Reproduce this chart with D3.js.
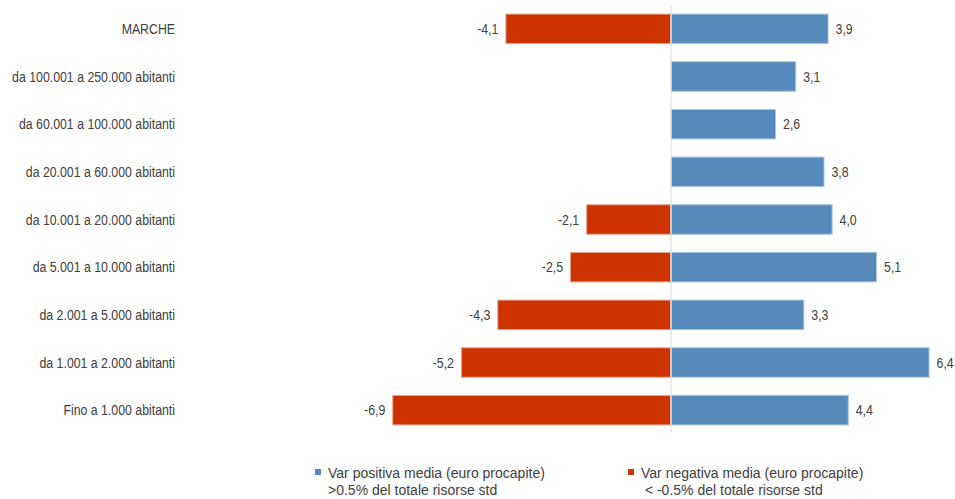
<!DOCTYPE html>
<html>
<head>
<meta charset="utf-8">
<script src="https://cdn.jsdelivr.net/npm/d3@7"></script>
<style>
  html, body { margin: 0; padding: 0; background: #fff; }
  svg { display: block; }
  .narrow { font-family: "Liberation Sans", Arial, sans-serif; font-size: 14.5px; }
  .legend { font-family: "Liberation Sans", Arial, sans-serif; font-size: 14px; }
</style>
</head>
<body>
<svg id="chart" width="955" height="499"></svg>
<script>
// Fasce demografiche (dall'alto verso il basso)
const categories = [
  "MARCHE",
  "da 100.001 a 250.000 abitanti",
  "da 60.001 a 100.000 abitanti",
  "da 20.001 a 60.000 abitanti",
  "da 10.001 a 20.000 abitanti",
  "da 5.001 a 10.000 abitanti",
  "da 2.001 a 5.000 abitanti",
  "da 1.001 a 2.000 abitanti",
  "Fino a 1.000 abitanti"
];
// Variazione positiva media (euro procapite)
const positiveValues = [3.9, 3.1, 2.6, 3.8, 4.0, 5.1, 3.3, 6.4, 4.4];
// Variazione negativa media (euro procapite); null = nessun valore
const negativeValues = [-4.1, null, null, null, -2.1, -2.5, -4.3, -5.2, -6.9];
const seriesNames = [
  ["Var positiva media (euro procapite)", ">0.5% del totale risorse std"],
  ["Var negativa media (euro procapite)", " < -0.5% del totale risorse std"]
];

const svg = d3.select("#chart");
const textColor = "#404040";
const condense = "scale(0.85,1)";   // carattere condensato
const fmt = v => v.toFixed(1).replace(".", ",");

const zeroX = 671, unit = 40.4;
const x = d3.scaleLinear().domain([-8, 8]).range([zeroX - 8 * unit, zeroX + 8 * unit]);
const y = d3.scaleBand().domain(categories).range([5, 434]).paddingInner(0.36).paddingOuter(0.18);

const series = [
  { values: positiveValues, fill: "#558abb", stroke: "#a9c7e2" },
  { values: negativeValues, fill: "#cc3300", stroke: "#eca58f" }
];

// Barre con etichette dei valori
series.forEach(s => {
  const data = categories.map((c, i) => ({ c, v: s.values[i] })).filter(d => d.v != null);
  svg.append("g").selectAll("rect").data(data).join("rect")
    .attr("x", d => Math.min(x(0), x(d.v)) + 0.5)
    .attr("y", d => y(d.c) + 0.5)
    .attr("width", d => Math.abs(x(d.v) - x(0)) - 1)
    .attr("height", y.bandwidth() - 1)
    .attr("fill", s.fill)
    .attr("stroke", s.stroke)
    .attr("stroke-width", 1);

  svg.append("g").attr("class", "narrow").selectAll("g").data(data).join("g")
    .attr("transform", d => {
      const tx = d.v >= 0 ? x(d.v) + 7 : x(d.v) - 7;
      const ty = y(d.c) + y.bandwidth() / 2 + 5;
      return `translate(${tx},${ty}) ${condense}`;
    })
    .append("text")
    .attr("text-anchor", d => d.v >= 0 ? "start" : "end")
    .attr("fill", textColor)
    .text(d => fmt(d.v));
});

// Linea dello zero
svg.append("line")
  .attr("x1", x(0)).attr("x2", x(0))
  .attr("y1", 5).attr("y2", 432)
  .attr("stroke", "#d9d9d9").attr("stroke-width", 1);

// Etichette delle categorie
const yAxis = d3.axisLeft(y).tickSize(0).tickPadding(0);
const gy = svg.append("g").attr("transform", "translate(175,0)").call(yAxis);
gy.select(".domain").remove();
gy.attr("font-family", null).attr("font-size", null).attr("class", "narrow");
gy.selectAll("text").attr("fill", textColor).attr("dy", null)
  .attr("x", 0).attr("y", 5).attr("transform", condense);

// Legenda
const legendX = [315, 628];
series.forEach((s, i) => {
  const g = svg.append("g").attr("class", "legend").attr("transform", `translate(${legendX[i]},0)`);
  g.append("rect").attr("y", 469).attr("width", 6).attr("height", 6).attr("fill", s.fill);
  g.append("text").attr("x", 13).attr("y", 478).attr("fill", textColor).text(seriesNames[i][0]);
  g.append("text").attr("x", 13).attr("y", 495).attr("fill", textColor)
    .style("white-space", "pre").text(seriesNames[i][1]);
});
</script>
</body>
</html>
